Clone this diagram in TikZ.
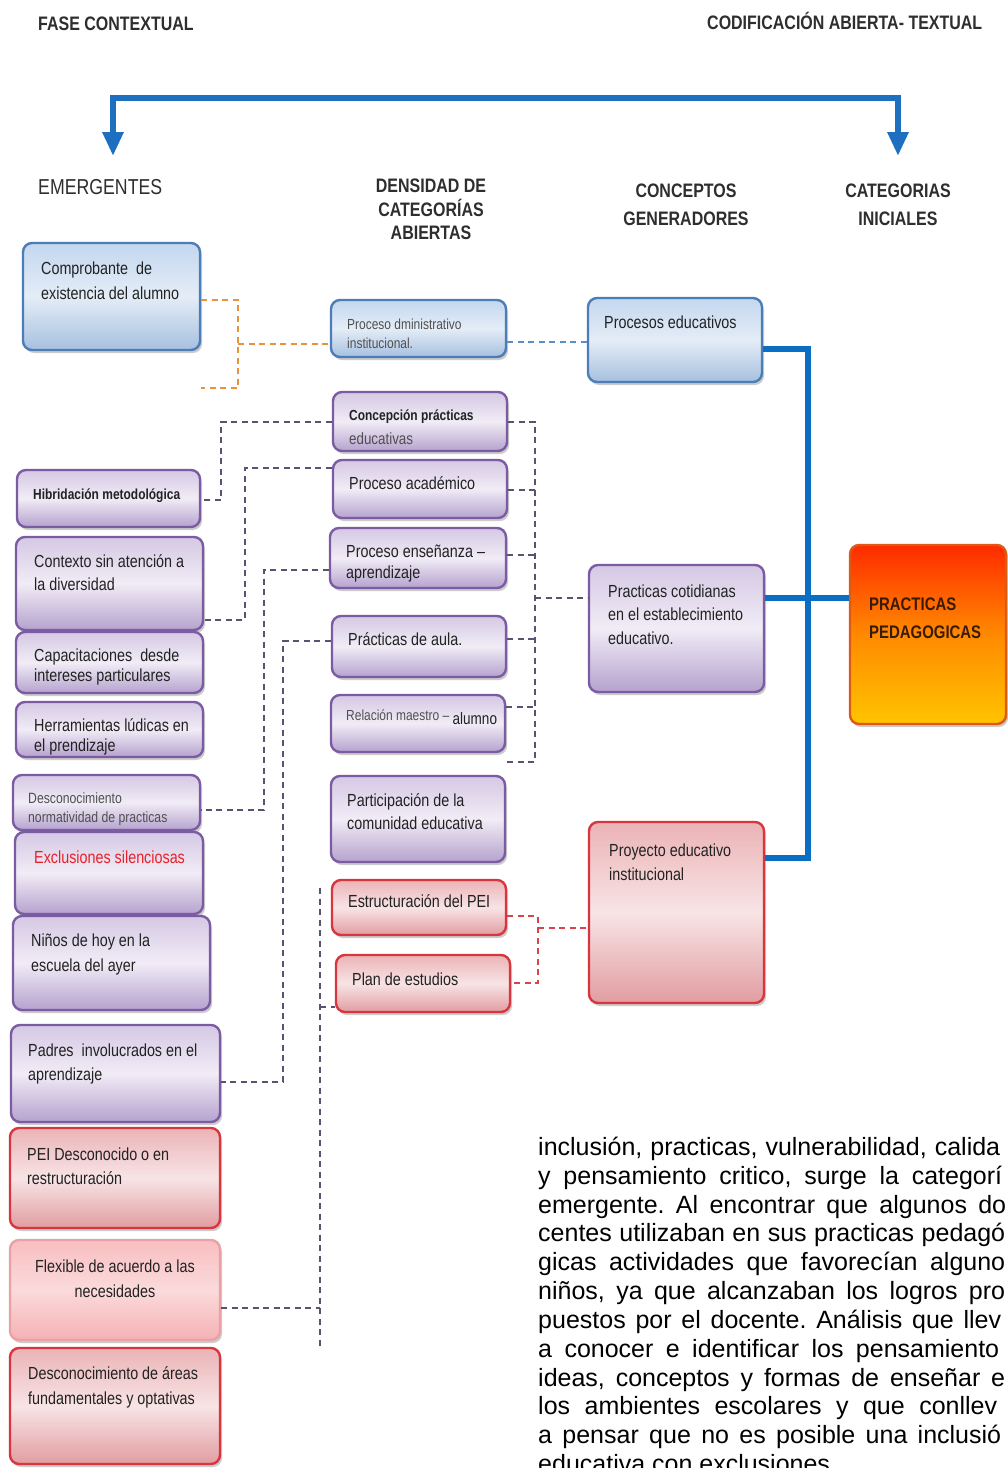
\documentclass[tikz,border=0pt]{standalone}
\usepackage{fontspec}
\setmainfont{Liberation Sans}
\newfontfamily\cf{Liberation Sans}[FakeStretch=0.82]
\usetikzlibrary{arrows.meta,shadows,fit}
\definecolor{bluebd}{HTML}{4D7DB6}
\definecolor{bluetop}{HTML}{C3D7EE}
\definecolor{bluemid}{HTML}{E4EDF7}
\definecolor{bluebot}{HTML}{A6C0DF}
\definecolor{purbd}{HTML}{7B5CA3}
\definecolor{purtop}{HTML}{D5C8E4}
\definecolor{purmid}{HTML}{F1ECF6}
\definecolor{purbot}{HTML}{B5A2CE}
\definecolor{redbd}{HTML}{D8363F}
\definecolor{redtop}{HTML}{EBB3B6}
\definecolor{redmid}{HTML}{F8E4E5}
\definecolor{redbot}{HTML}{E19DA1}
\definecolor{pinkbd}{HTML}{E8A2A6}
\definecolor{pinktop}{HTML}{F8BEC1}
\definecolor{pinkmid}{HTML}{FBDADB}
\definecolor{pinkbot}{HTML}{F5B1B4}
\definecolor{orbd}{HTML}{DD5A14}
\definecolor{ortop}{HTML}{FF2A00}
\definecolor{ormid}{HTML}{FF8A00}
\definecolor{orbot}{HTML}{FFC400}
\definecolor{arrblue}{HTML}{1F6FC0}
\definecolor{busblue}{HTML}{0A6FC2}
\definecolor{dorange}{HTML}{E8923A}
\definecolor{dblue}{HTML}{5B8FC9}
\definecolor{dgray}{HTML}{5A5270}
\definecolor{dred}{HTML}{D9434A}
\definecolor{txt}{HTML}{222222}
\definecolor{ltxt}{HTML}{505050}
\definecolor{hdrtxt}{HTML}{2E2E2E}
\definecolor{redtxt}{HTML}{E8202A}
\definecolor{ptxt}{HTML}{3A1A00}
\newcommand\tp{\rule{0pt}{.75em}}
\frenchspacing
\begin{document}
\begin{tikzpicture}[x=1pt,y=-1pt,
  boxbase/.style={draw, line width=2.4pt, rounded corners=9pt, inner sep=0pt,
    drop shadow={shadow xshift=2pt,shadow yshift=-3pt,opacity=.4}},
  bluebox/.style={boxbase, draw=bluebd, top color=bluetop, bottom color=bluebot, middle color=bluemid},
  purbox/.style={boxbase, draw=purbd, top color=purtop, bottom color=purbot, middle color=purmid},
  redbox/.style={boxbase, draw=redbd, top color=redtop, bottom color=redbot, middle color=redmid},
  pinkbox/.style={boxbase, draw=pinkbd, top color=pinktop, bottom color=pinkbot, middle color=pinkmid},
  orbox/.style={boxbase, draw=orbd, top color=ortop, bottom color=orbot, middle color=ormid},
  lbl/.style={anchor=north west, inner sep=0pt, align=left, text=txt, font=\cf\fontsize{17.5}{#1}\selectfont},
  lbl/.default=24,
  slbl/.style={anchor=north west, inner sep=0pt, align=left, text=ltxt, font=\cf\fontsize{14.6}{#1}\selectfont},
  slbl/.default=19,
  hdr/.style={inner sep=0pt, text=hdrtxt, font=\cf\bfseries\fontsize{19.5}{#1}\selectfont},
  hdr/.default=24,
  body/.style={anchor=base west, inner sep=0pt, text=black, font=\fontsize{25}{28.8}\selectfont},
  ddash/.style={line width=1.8pt, dash pattern=on 6pt off 4.5pt},
  odash/.style={ddash, draw=dorange},
  bdash/.style={ddash, draw=dblue},
  gdash/.style={ddash, draw=dgray},
  rdash/.style={ddash, draw=dred},
  bus/.style={line width=5.5pt, draw=busblue, line join=miter},
  toparrow/.style={line width=6pt, draw=arrblue, line join=miter,
    {Triangle[width=20pt,length=24pt]}-{Triangle[width=20pt,length=24pt]}}
]
\useasboundingbox (0,0) rectangle (1008,1468);
\fill[white] (0,0) rectangle (1008,1468);
\clip (0,0) rectangle (1008,1468);

% ---- headings ----
\node[hdr, anchor=base west] (h1) at (38,30) {FASE CONTEXTUAL};
\node[hdr, anchor=base west] (h2) at (707,29) {CODIFICACIÓN ABIERTA- TEXTUAL};
\node[inner sep=0pt, anchor=base west, text=hdrtxt, font=\cf\fontsize{21.6}{26}\selectfont] (h3) at (38,194) {EMERGENTES};
\node[hdr=23.5, anchor=north, align=center] (h4) at (431,178) {\tp DENSIDAD DE\\CATEGORÍAS\\ABIERTAS};
\node[hdr=28, anchor=north, align=center] (h5) at (686,183) {\tp CONCEPTOS\\GENERADORES};
\node[hdr=28, anchor=north, align=center] (h6) at (898,183) {\tp CATEGORIAS\\INICIALES};

% ---- top arrows ----
\coordinate (al) at (113,156);
\coordinate (tl) at (113,98);
\coordinate (tr) at (898,98);
\coordinate (ar) at (898,156);
\draw[toparrow] (al) -- (tl) -- (tr) -- (ar);

% ---- left column boxes ----
\node[bluebox, fit={(23,243)(200,350)}] (L1) {};
\node[purbox, fit={(17,470)(200,527)}] (L2) {};
\node[purbox, fit={(16,537)(203,630)}] (L3) {};
\node[purbox, fit={(16,632)(203,693)}] (L4) {};
\node[purbox, fit={(16,702)(203,757)}] (L5) {};
\node[purbox, fit={(13,775)(200,830)}] (L6) {};
\node[purbox, fit={(15,832)(203,914)}] (L7) {};
\node[purbox, fit={(13,916)(210,1010)}] (L8) {};
\node[purbox, fit={(11,1025)(220,1122)}] (L9) {};
\node[redbox, fit={(10,1128)(220,1228)}] (L10) {};
\node[pinkbox, fit={(10,1240)(220,1340)}] (L11) {};
\node[redbox, fit={(10,1348)(220,1464)}] (L12) {};

% ---- middle column boxes ----
\node[bluebox, fit={(331,300)(506,357)}] (M1) {};
\node[purbox, fit={(333,392)(507,451)}] (M2) {};
\node[purbox, fit={(333,460)(507,518)}] (M3) {};
\node[purbox, fit={(330,528)(506,588)}] (M4) {};
\node[purbox, fit={(332,616)(506,677)}] (M5) {};
\node[purbox, fit={(331,695)(505,752)}] (M6) {};
\node[purbox, fit={(331,776)(505,862)}] (M7) {};
\node[redbox, fit={(332,880)(506,935)}] (M8) {};
\node[redbox, fit={(336,955)(510,1012)}] (M9) {};

% ---- right column boxes ----
\node[bluebox, fit={(588,298)(762,382)}] (R1) {};
\node[purbox, fit={(589,565)(764,692)}] (R2) {};
\node[redbox, fit={(589,822)(764,1003)}] (R3) {};
\node[orbox, fit={(850,545)(1006,724)}] (P) {};

% ---- texts in boxes ----
\node[lbl=25] (tL1) at (41,261) {\tp Comprobante\ \ de\\existencia del alumno};
\node[lbl, font=\cf\bfseries\fontsize{14.6}{19}\selectfont] (tL2) at (33,488) {\tp Hibridación metodológica};
\node[lbl=23] (tL3) at (34,554) {\tp Contexto sin atención a\\la diversidad};
\node[lbl=20] (tL4) at (34,648) {\tp Capacitaciones\ \ desde\\intereses particulares};
\node[lbl=20] (tL5) at (34,718) {\tp Herramientas lúdicas en\\el prendizaje};
\node[slbl=19, font=\cf\fontsize{14.9}{19}\selectfont] (tL6) at (28,792) {\tp Desconocimiento\\normatividad de practicas};
\node[lbl, text=redtxt] (tL7) at (34,850) {\tp Exclusiones silenciosas};
\node[lbl=25] (tL8) at (31,933) {\tp Niños de hoy en la\\escuela del ayer};
\node[lbl=24] (tL9) at (28,1043) {\tp Padres\ \ involucrados en el\\aprendizaje};
\node[lbl=24] (tL10) at (27,1147) {\tp PEI Desconocido o en\\restructuración};
\node[lbl=25, anchor=north, align=center] (tL11) at (115,1259) {\tp Flexible de acuerdo a las\\necesidades};
\node[lbl=25] (tL12) at (28,1366) {\tp Desconocimiento de áreas\\fundamentales y optativas};

\node[slbl=19] (tM1) at (347,318) {\tp Proceso dministrativo\\institucional.};
\node[lbl, font=\cf\fontsize{16.3}{24}\selectfont, text=ltxt] (tM2) at (349,408) {\tp{\color{txt}\bfseries\fontsize{14.6}{24}\selectfont Concepción prácticas}\\educativas};
\node[lbl] (tM3) at (349,476) {\tp Proceso académico};
\node[lbl=21] (tM4) at (346,544) {\tp Proceso enseñanza –\\aprendizaje};
\node[lbl] (tM5) at (348,632) {\tp Prácticas de aula.};
\node[slbl] (tM6) at (346,709) {\tp Relación maestro – \raisebox{-4pt}{\color{txt}\fontsize{16.5}{19}\selectfont alumno}};
\node[lbl=23] (tM7) at (347,793) {\tp Participación de la\\comunidad educativa};
\node[lbl] (tM8) at (348,894) {\tp Estructuración del PEI};
\node[lbl] (tM9) at (352,972) {\tp Plan de estudios};

\node[lbl] (tR1) at (604,315) {\tp Procesos educativos};
\node[lbl=23.5] (tR2) at (608,584) {\tp Practicas cotidianas\\en el establecimiento\\educativo.};
\node[lbl=24] (tR3) at (609,843) {\tp Proyecto educativo\\institucional};
\node[lbl=28, text=ptxt, font=\cf\bfseries\fontsize{18.2}{28}\selectfont] (tP) at (869,597) {\tp PRACTICAS\\PEDAGOGICAS};

% ---- dashed connectors ----
\coordinate (o1) at (238,300);
\coordinate (o2) at (238,388);
\coordinate (o3) at (238,344);
\draw[odash] (L1.east |- o1) -- (o1) -- (o2) -- (L1.east |- o2);
\draw[odash] (o3) -- (M1.west |- o3);

\coordinate (bd) at (547,342);
\draw[bdash] (M1.east |- bd) -- (R1.west |- bd);

\coordinate (g1a) at (221,422);
\coordinate (g1b) at (221,500);
\draw[gdash] (M2.west |- g1a) -- (g1a) -- (g1b) -- (L2.east |- g1b);
\coordinate (g2a) at (245,468);
\coordinate (g2b) at (245,620);
\draw[gdash] (M3.west |- g2a) -- (g2a) -- (g2b) -- (L3.east |- g2b);
\coordinate (g3a) at (264,570);
\coordinate (g3b) at (264,810);
\draw[gdash] (M4.west |- g3a) -- (g3a) -- (g3b) -- (L6.east |- g3b);
\coordinate (g4a) at (283,641);
\coordinate (g4b) at (283,1082);
\draw[gdash] (M5.west |- g4a) -- (g4a) -- (g4b) -- (L9.east |- g4b);
\coordinate (g5a) at (320,888);
\coordinate (g5j) at (320,1007);
\coordinate (g5f) at (320,1308);
\coordinate (g5d) at (320,1350);
\draw[gdash] (g5a) -- (g5d);
\draw[gdash] (g5j) -- (M9.west |- g5j);
\draw[gdash] (L11.east |- g5f) -- (g5f);

\coordinate (r0) at (535,422);
\coordinate (r1) at (535,490);
\coordinate (r2) at (535,555);
\coordinate (r3) at (535,639);
\coordinate (r4) at (535,707);
\coordinate (r5) at (535,762);
\coordinate (rm) at (535,598);
\draw[gdash] (M2.east |- r0) -- (r0) -- (r5) -- (M6.east |- r5);
\draw[gdash] (M3.east |- r1) -- (r1);
\draw[gdash] (M4.east |- r2) -- (r2);
\draw[gdash] (M5.east |- r3) -- (r3);
\draw[gdash] (M6.east |- r4) -- (r4);
\draw[gdash] (rm) -- (R2.west |- rm);

\coordinate (x1) at (538,916);
\coordinate (x2) at (538,983);
\coordinate (xm) at (538,928);
\draw[rdash] (M8.east |- x1) -- (x1) -- (x2) -- (M9.east |- x2);
\draw[rdash] (xm) -- (R3.west |- xm);

% ---- thick blue bus ----
\coordinate (b1) at (808,349);
\coordinate (b2) at (808,598);
\coordinate (b3) at (808,858);
\draw[bus] (R1.east |- b1) -- (b1) -- (b3) -- (R3.east |- b3);
\draw[bus] (R2.east |- b2) -- (P.west |- b2);

% ---- paragraph (visible part, as printed) ----
\node[body] (p1) at (538,1155) {\makebox[462pt][s]{inclusión, practicas, vulnerabilidad, calida}};
\node[body] (p2) at (538,1184) {\makebox[464pt][s]{y pensamiento critico, surge la categorí}};
\node[body] (p3) at (538,1213) {\makebox[468pt][s]{emergente. Al encontrar que algunos do}};
\node[body] (p4) at (538,1241) {\makebox[467pt][s]{centes utilizaban en sus practicas pedagó}};
\node[body] (p5) at (538,1270) {\makebox[467pt][s]{gicas actividades que favorecían alguno}};
\node[body] (p6) at (538,1299) {\makebox[467pt][s]{niños, ya que alcanzaban los logros pro}};
\node[body] (p7) at (538,1328) {\makebox[463pt][s]{puestos por el docente. Análisis que llev}};
\node[body] (p8) at (538,1357) {\makebox[461pt][s]{a conocer e identificar los pensamiento}};
\node[body] (p9) at (538,1386) {\makebox[467pt][s]{ideas, conceptos y formas de enseñar e}};
\node[body] (p10) at (538,1414) {\makebox[459pt][s]{los ambientes escolares y que conllev}};
\node[body] (p11) at (538,1443) {\makebox[463pt][s]{a pensar que no es posible una inclusió}};
\node[body] (p12) at (538,1472) {educativa con exclusiones.};
\end{tikzpicture}
\end{document}
